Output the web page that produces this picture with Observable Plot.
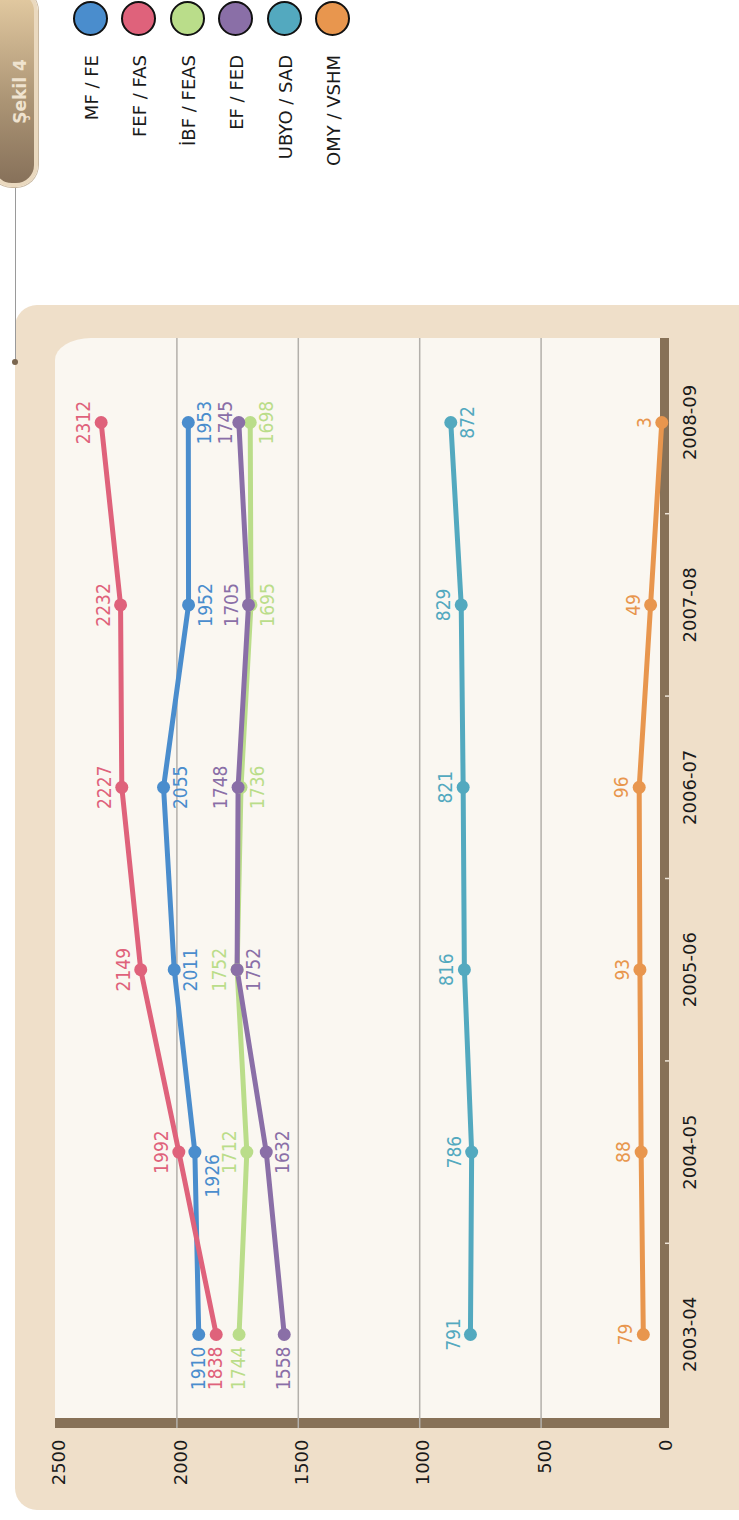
<!DOCTYPE html>
<html>
<head>
<meta charset="utf-8">
<script src="https://cdn.jsdelivr.net/npm/d3@7"></script>
<script src="https://cdn.jsdelivr.net/npm/@observablehq/plot@0.6"></script>
<style>
html, body { margin: 0; padding: 0; background: #ffffff; width: 739px; height: 1520px; overflow: hidden; }
#land { position: absolute; left: 0; top: 0; width: 1520px; height: 739px; transform-origin: 0 0; transform: translate(0px, 1520px) rotate(-90deg); overflow: hidden; font-family: "DejaVu Sans", sans-serif; }
.abs { position: absolute; }
#outer { left: 10px; top: 15px; width: 1205px; height: 800px; background: #efdfc9; border-radius: 22px; }
#cream { left: 102px; top: 55px; width: 1080px; height: 607px; background: #faf7f1; border-top-right-radius: 22px 36px; }
#barL { left: 92px; top: 55px; width: 10px; height: 614px; background: #877157; }
#barB { left: 92px; top: 660px; width: 1090px; height: 9px; background: #877157; }
#conn { left: 1158px; top: 14.5px; width: 180px; height: 1px; background: #9a9a9a; }
#connDot { left: 1155px; top: 12px; width: 6px; height: 6px; border-radius: 50%; background: #7a664f; }
#tab { left: 1333px; top: -10px; width: 190px; height: 40px; border: 4px solid #ead9bf; border-radius: 22px; background: linear-gradient(to left, #e4cba2, #ad9676 55%, #87715a); box-shadow: 0 0 0 1px #c9b8a0; }
#tabText { left: 1337px; top: 7px; width: 183px; height: 26px; line-height: 26px; text-align: center; font-size: 17px; font-weight: bold; color: #efe3cf; }
#chart { left: 0; top: 0; }
.legCircle { position: absolute; width: 31px; height: 31px; border: 2.5px solid #111; border-radius: 50%; }
.legLabel { position: absolute; width: 300px; text-align: right; font-size: 18px; line-height: 24px; color: #1a1a1a; white-space: nowrap; }
</style>
</head>
<body>
<div id="land">
  <div id="outer" class="abs"></div>
  <div id="cream" class="abs"></div>
  <div id="barL" class="abs"></div>
  <div id="barB" class="abs"></div>
  <div id="conn" class="abs"></div>
  <div id="connDot" class="abs"></div>
  <div id="tab" class="abs"></div>
  <div id="tabText" class="abs">Şekil 4</div>
  <div id="chart" class="abs"></div>
  <div id="legend" class="abs" style="left:0;top:0;"></div>
</div>
<script>
// ---- data ----
const years = ["2003-04", "2004-05", "2005-06", "2006-07", "2007-08", "2008-09"];
const seriesNames = ["MF / FE", "FEF / FAS", "İBF / FEAS", "EF / FED", "UBYO / SAD", "OMY / VSHM"];
const mfFe    = [1910, 1926, 2011, 2055, 1952, 1953];
const fefFas  = [1838, 1992, 2149, 2227, 2232, 2312];
const ibfFeas = [1744, 1712, 1752, 1736, 1695, 1698];
const efFed   = [1558, 1632, 1752, 1748, 1705, 1745];
const ubyoSad = [791, 786, 816, 821, 829, 872];
const omyVshm = [79, 88, 93, 96, 49, 3];
const yTicks  = [0, 500, 1000, 1500, 2000, 2500];
const gridTicks = [500, 1000, 1500, 2000];

// ---- styles ----
const seriesColors = ["#4a8dcd", "#df627b", "#badd8a", "#8a6fa7", "#53a9bf", "#e8964e"];
// label placement per point (style only)
const placeMF   = ["left", "belowEnd", "below", "below", "below", "below"];
const placeFEF  = ["left", "above", "above", "above", "above", "above"];
const placeIBF  = ["left", "above", "above", "below", "below", "below"];
const placeEF   = ["left", "below", "below", "above", "above", "aboveTight"];
const placeUBYO = ["above", "above", "above", "above", "above", "below"];
const placeOMY  = ["above", "above", "above", "above", "above", "above"];

const seriesValues = [mfFe, fefFas, ibfFeas, efFed, ubyoSad, omyVshm];
const placements = [placeMF, placeFEF, placeIBF, placeEF, placeUBYO, placeOMY];

const rows = [];
seriesValues.forEach((vals, s) => vals.forEach((v, i) => rows.push({series: seriesNames[s], i, value: v, place: placements[s][i]})));

const idx = years.map((_, i) => i);
const mids = d3.range(years.length - 1).map(i => i + 0.5);

const labelFont = "'Liberation Sans Narrow', 'DejaVu Sans Condensed', 'Roboto', sans-serif";
const lab = {x: "i", y: "value", text: d => String(d.value), fill: "series", fontSize: 19, fontFamily: labelFont, lineAnchor: "middle"};

const chart = Plot.plot({
  width: 1520,
  height: 739,
  marginLeft: 102,
  marginRight: 338,
  marginTop: 55,
  marginBottom: 77,
  x: {domain: [0, years.length - 1], range: [185, 1097], axis: null},
  y: {domain: [0, 2500], axis: null},
  color: {domain: seriesNames, range: seriesColors},
  style: {background: "transparent", fontFamily: "DejaVu Sans, sans-serif", color: "#1a1a1a", overflow: "visible"},
  marks: [
    Plot.ruleY(gridTicks, {stroke: "#b3b0ab", strokeWidth: 1.5, insetLeft: -10}),
    Plot.ruleX(mids, {x: d => d, y1: 0, y2: 0, insetTop: 3, insetBottom: -7, stroke: "#efe6d9", strokeWidth: 1.5}),
    Plot.line(rows, {x: "i", y: "value", z: "series", stroke: "series", strokeWidth: 5, strokeLinejoin: "round", strokeLinecap: "round"}),
    Plot.dot(rows, {x: "i", y: "value", fill: "series", r: 6.5}),
    Plot.text(rows.filter(d => d.place === "above"), {...lab, dy: -17}),
    Plot.text(rows.filter(d => d.place === "aboveTight"), {...lab, dy: -13}),
    Plot.text(rows.filter(d => d.place === "below"), {...lab, dy: 17}),
    Plot.text(rows.filter(d => d.place === "left"), {...lab, textAnchor: "end", dx: -12}),
    Plot.text(rows.filter(d => d.place === "belowEnd"), {...lab, textAnchor: "end", dx: -2, dy: 18}),
    Plot.text(yTicks, {y: d => d, text: d => String(d), frameAnchor: "left", textAnchor: "end", dx: -22, dy: 4, fontSize: 18, fill: "#1a1a1a"}),
    Plot.text(idx, {x: d => d, text: d => years[d], frameAnchor: "bottom", lineAnchor: "middle", dy: 28, fontSize: 18, fill: "#1a1a1a"})
  ]
});
document.getElementById("chart").appendChild(chart);

// legend
const legend = document.getElementById("legend");
seriesNames.forEach((name, k) => {
  const cy = 91 + k * 48.4;
  const c = document.createElement("div");
  c.className = "legCircle";
  c.style.left = (1502 - 18) + "px";
  c.style.top = (cy - 18) + "px";
  c.style.background = seriesColors[k];
  legend.appendChild(c);
  const t = document.createElement("div");
  t.className = "legLabel";
  t.style.left = (1465 - 300) + "px";
  t.style.top = (cy - 11) + "px";
  t.textContent = name;
  legend.appendChild(t);
});
</script>
</body>
</html>
